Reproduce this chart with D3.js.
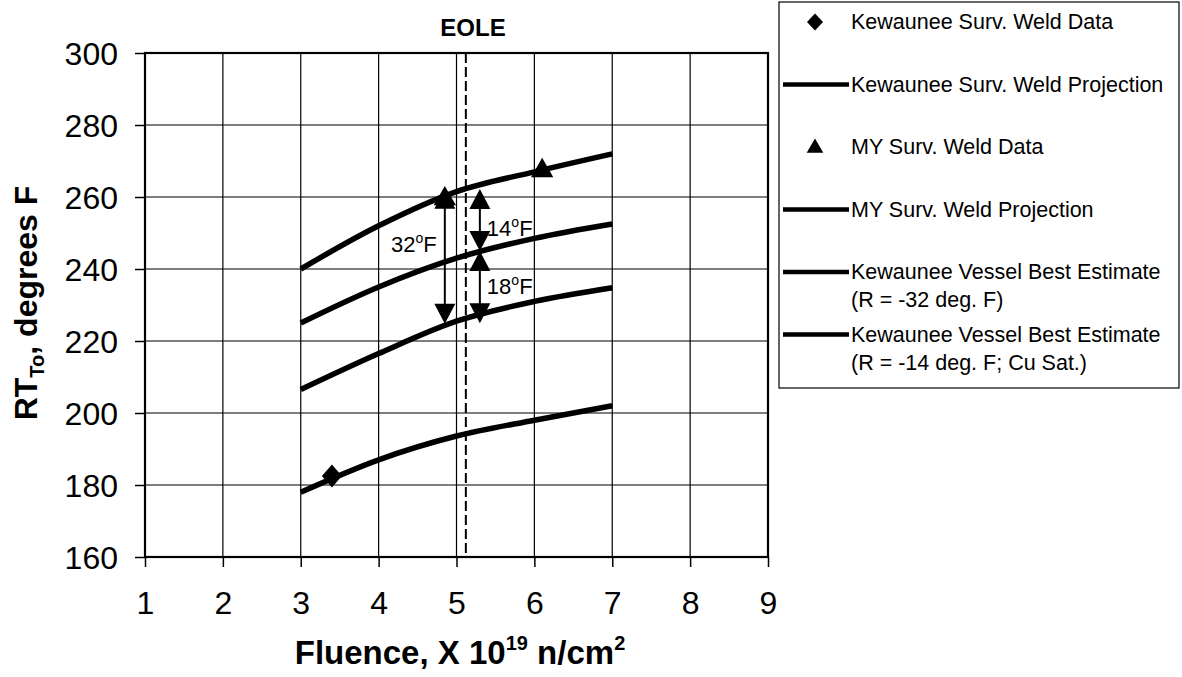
<!DOCTYPE html>
<html>
<head>
<meta charset="utf-8">
<script src="https://cdn.jsdelivr.net/npm/d3@7"></script>
<style>
body { margin: 0; background: #fff; }
text { font-family: Arial, "Liberation Sans", sans-serif; fill: #000; }
</style>
</head>
<body>
<div id="chart"></div>
<script>
// curves (fluence in 1e19 n/cm2, RTTo in deg F)
var fluence = [3, 4, 5, 6, 7];
var myProj = [240, 252, 261.5, 267, 272];
var vesselR14 = [225, 235, 243, 248.5, 252.5];
var vesselR32 = [206.5, 216.5, 225.5, 231, 234.8];
var kewProj = [178, 187, 193.6, 198, 202];

var kewDataX = [3.4], kewDataY = [182.5];
var myDataX = [4.85, 6.1], myDataY = [259.5, 267.3];

var xTicks = [1, 2, 3, 4, 5, 6, 7, 8, 9];
var yTicks = [160, 180, 200, 220, 240, 260, 280, 300];
var eole = 5.12;

// the three difference arrows
var arrowX = [4.85, 5.3, 5.3];
var arrowTop = [262.3, 262.2, 245];
var arrowBottom = [224.8, 245, 224.9];
var arrowText = ["32", "14", "18"];
var arrowTextAt = [247, 251.5, 235.3];

var legendNames = [["Kewaunee Surv. Weld Data"], ["Kewaunee Surv. Weld Projection"],
  ["MY Surv. Weld Data"], ["MY Surv. Weld Projection"],
  ["Kewaunee Vessel Best Estimate", "(R = -32 deg. F)"],
  ["Kewaunee Vessel Best Estimate", "(R = -14 deg. F; Cu Sat.)"]];
var legendKind = ["diamond", "line", "triangle", "line", "line", "line"];

var width = 1182, height = 677;
var pLeft = 145, pRight = 768, pTop = 53, pBottom = 557;

var svg = d3.select("#chart").append("svg")
  .attr("width", width)
  .attr("height", height);

svg.append("rect").attr("width", width).attr("height", height).attr("fill", "#fff");

var x = d3.scaleLinear().domain([1, 9]).range([pLeft, pRight]);
var y = d3.scaleLinear().domain([160, 300]).range([pBottom, pTop]);

// grid
svg.append("g")
  .selectAll("line")
  .data(xTicks)
  .enter().append("line")
  .attr("x1", d => x(d)).attr("x2", d => x(d))
  .attr("y1", pTop).attr("y2", pBottom)
  .attr("stroke", "#000").attr("stroke-width", 1.2);
svg.append("g")
  .selectAll("line")
  .data(yTicks)
  .enter().append("line")
  .attr("x1", pLeft).attr("x2", pRight)
  .attr("y1", d => y(d)).attr("y2", d => y(d))
  .attr("stroke", "#000").attr("stroke-width", 1.2);

// axes
var xAxis = svg.append("g")
  .attr("transform", "translate(0," + pBottom + ")")
  .call(d3.axisBottom(x).tickValues(xTicks).tickSize(10).tickPadding(24).tickFormat(d3.format("d")));
var yAxis = svg.append("g")
  .attr("transform", "translate(" + pLeft + ",0)")
  .call(d3.axisLeft(y).tickValues(yTicks).tickSize(10).tickPadding(17).tickFormat(d3.format("d")));
[xAxis, yAxis].forEach(function(a) {
  a.select(".domain").remove();
  a.selectAll("line").attr("stroke", "#000").attr("stroke-width", 1.5);
  a.selectAll("text").attr("font-size", 32).attr("fill", "#000")
    .attr("font-family", "Arial, 'Liberation Sans', sans-serif");
});
xAxis.selectAll("text").attr("dy", "0.71em");
yAxis.selectAll("text").attr("dy", "0.36em");

// plot frame
svg.append("rect")
  .attr("x", pLeft).attr("y", pTop)
  .attr("width", pRight - pLeft).attr("height", pBottom - pTop)
  .attr("fill", "none").attr("stroke", "#000").attr("stroke-width", 2.2);

// EOLE line
svg.append("line")
  .attr("x1", x(eole)).attr("x2", x(eole))
  .attr("y1", pTop).attr("y2", pBottom)
  .attr("stroke", "#000").attr("stroke-width", 2)
  .attr("stroke-dasharray", "10,4");
svg.append("text")
  .attr("x", 473).attr("y", 36)
  .attr("text-anchor", "middle")
  .attr("font-size", 24).attr("font-weight", "bold")
  .text("EOLE");

// curves
var line = d3.line()
  .x(function(d, i) { return x(fluence[i]); })
  .y(function(d) { return y(d); })
  .curve(d3.curveMonotoneX);
[myProj, vesselR14, vesselR32, kewProj].forEach(function(s) {
  svg.append("path")
    .attr("d", line(s))
    .attr("fill", "none")
    .attr("stroke", "#000")
    .attr("stroke-width", 5.5);
});

// arrows
function tri(cx, tipY, dir, w, h) {
  // dir -1 = pointing up, 1 = pointing down
  return "M" + cx + "," + tipY + "L" + (cx - w / 2) + "," + (tipY - dir * h) +
    "L" + (cx + w / 2) + "," + (tipY - dir * h) + "Z";
}
for (let i = 0; i < arrowX.length; i++) {
  var ax = x(arrowX[i]);
  svg.append("line")
    .attr("x1", ax).attr("x2", ax)
    .attr("y1", y(arrowTop[i]) + 10).attr("y2", y(arrowBottom[i]) - 10)
    .attr("stroke", "#000").attr("stroke-width", 2);
  svg.append("path").attr("d", tri(ax, y(arrowTop[i]), -1, 21, 20)).attr("fill", "#000");
  svg.append("path").attr("d", tri(ax, y(arrowBottom[i]), 1, 21, 20)).attr("fill", "#000");
  var t = svg.append("text")
    .attr("font-size", 22)
    .attr("y", y(arrowTextAt[i]) + 8);
  if (i == 0) {
    t.attr("x", ax - 8).attr("text-anchor", "end");
  } else {
    t.attr("x", ax + 7).attr("text-anchor", "start");
  }
  t.append("tspan").text(arrowText[i]);
  t.append("tspan").attr("font-size", 14).attr("dy", -9).text("o");
  t.append("tspan").attr("dy", 9).text("F");
}

// data markers
function diamond(cx, cy, w, h) {
  return "M" + cx + "," + (cy - h / 2) + "L" + (cx + w / 2) + "," + cy +
    "L" + cx + "," + (cy + h / 2) + "L" + (cx - w / 2) + "," + cy + "Z";
}
kewDataX.forEach(function(d, i) {
  svg.append("path").attr("d", diamond(x(d), y(kewDataY[i]), 20, 23)).attr("fill", "#000");
});
var triSym = d3.symbol().type(d3.symbolTriangle).size(215);
myDataX.forEach(function(d, i) {
  svg.append("path")
    .attr("d", triSym())
    .attr("transform", "translate(" + x(d) + "," + y(myDataY[i]) + ")")
    .attr("fill", "#000");
});

// axis titles
var yt = svg.append("text")
  .attr("transform", "translate(37," + ((pTop + pBottom) / 2 - 2) + ") rotate(-90)")
  .attr("text-anchor", "middle")
  .attr("font-size", 32).attr("font-weight", "bold");
yt.append("tspan").text("RT");
yt.append("tspan").attr("font-size", 20).attr("dy", 7).text("To");
yt.append("tspan").attr("dy", -7).text(", degrees F");

var xt = svg.append("text")
  .attr("x", 460).attr("y", 664)
  .attr("text-anchor", "middle")
  .attr("font-size", 33).attr("font-weight", "bold");
xt.append("tspan").text("Fluence, X 10");
xt.append("tspan").attr("font-size", 20).attr("dy", -14).text("19");
xt.append("tspan").attr("dy", 14).text(" n/cm");
xt.append("tspan").attr("font-size", 20).attr("dy", -14).text("2");

// legend
var lg = svg.append("g");
lg.append("rect")
  .attr("x", 779).attr("y", 2).attr("width", 400).attr("height", 386)
  .attr("fill", "#fff").attr("stroke", "#000").attr("stroke-width", 1.2);
legendNames.forEach(function(names, i) {
  var ly = 22 + i * 62.5;
  if (legendKind[i] == "diamond") {
    lg.append("path").attr("d", diamond(815, ly, 16, 17)).attr("fill", "#000");
  } else if (legendKind[i] == "triangle") {
    lg.append("path")
      .attr("d", d3.symbol().type(d3.symbolTriangle).size(120)())
      .attr("transform", "translate(815," + (ly + 1) + ")")
      .attr("fill", "#000");
  } else {
    lg.append("line")
      .attr("x1", 783).attr("x2", 849)
      .attr("y1", ly).attr("y2", ly)
      .attr("stroke", "#000").attr("stroke-width", 4.5);
  }
  names.forEach(function(n, j) {
    lg.append("text")
      .attr("x", 851).attr("y", ly + 7 + j * 28)
      .attr("font-size", 21.5)
      .text(n);
  });
});
</script>
</body>
</html>
